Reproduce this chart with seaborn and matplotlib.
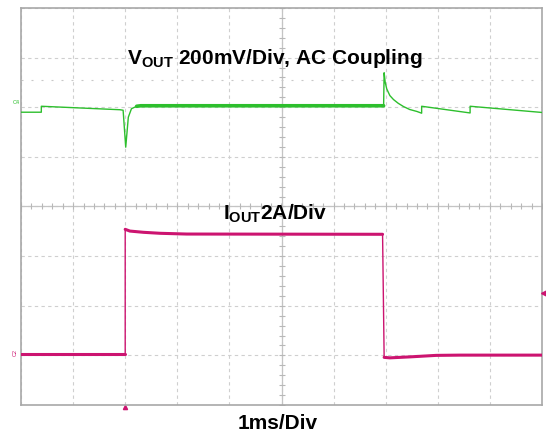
import numpy as np
import pandas as pd
import matplotlib
matplotlib.use("Agg")
import matplotlib.pyplot as plt
import matplotlib.transforms as mtransforms
import seaborn as sns

# =========================
# Data
# time in ms relative to trigger, 1 ms/div
# =========================
t_vout = [-2.0, -1.61, -1.61, -0.10, -0.04, 0.01, 0.06, 0.12, 0.22, 0.30,
          4.96, 4.97, 4.99, 5.02, 5.08, 5.15, 5.24, 5.34, 5.46, 5.60,
          5.69, 5.69, 6.62, 6.62, 8.0]
vout_mv = [-20, -20, 4, -10, -12, -161, -40, -6, 4, 6,
           6, 139, 101, 74, 47, 31, 16, 3, -9, -17,
           -24, 4, -23, 4, -21]

t_iout = [-2.0, 0.0, 0.0, 0.09, 0.35, 0.67, 1.18, 4.94, 4.97, 5.08,
          5.47, 5.97, 6.43, 8.0]
iout_a = [0.04, 0.04, 5.08, 5.01, 4.96, 4.92, 4.89, 4.88, -0.08, -0.10,
          -0.06, 0.0, 0.01, 0.01]
# which part of the current trace each point belongs to (0 low, 1 high, 2 low)
iout_seg = [0, 0, 1, 1, 1, 1, 1, 1, 2, 2, 2, 2, 2, 2]

trig_level_a = 2.5
trig_time_ms = 0.0

green = "#2dbf2d"
pink = "#cc1470"

# =========================
# Figure / scope graticule
# =========================
sns.set_style("white")
plt.rcParams["font.family"] = ["Liberation Sans", "DejaVu Sans"]
plt.rcParams["mathtext.fontset"] = "custom"
plt.rcParams["mathtext.rm"] = "Liberation Sans"
plt.rcParams["mathtext.bf"] = "Liberation Sans:bold"

fig = plt.figure(figsize=(5.46, 4.36), dpi=100)
ax = fig.add_axes([21 / 546, 31 / 436, 521 / 546, 397 / 436])

ax.set_xlim(-2, 8)
ax.set_ylim(-4, 4)
ax.set_xticks(np.arange(-2, 9))
ax.set_yticks(np.arange(-4, 5))
ax.grid(True, linestyle=(0, (3, 3)), color="#cfcfcf", linewidth=0.8)
ax.tick_params(length=0, labelbottom=False, labelleft=False)
for s in ax.spines.values():
    s.set_color("#a8a8a8")
    s.set_linewidth(1.2)

# center cross with minor ticks
ax.axhline(0, color="#c4c4c4", lw=0.9)
ax.axvline(3, color="#c4c4c4", lw=0.9)
minor_x = np.arange(-2, 8.01, 0.2)
minor_y = np.arange(-4, 4.01, 0.2)
ax.plot(minor_x, np.zeros_like(minor_x), ls="none", marker="|", ms=5,
        mew=0.8, color="#b8b8b8")
ax.plot(np.full_like(minor_y, 3), minor_y, ls="none", marker="_", ms=5,
        mew=0.8, color="#b8b8b8")
# dotted ruler line
ax.axhline(2.54, color="#c8c8c8", lw=0.8, linestyle=(0, (1.8, 7.2)))

# =========================
# Traces
# =========================
ax_v = ax.twinx()
ax_v.set_ylim(-1200, 400)   # 200 mV/div, C4 offset +2 div
ax_i = ax.twinx()
ax_i.set_ylim(-2, 14)       # 2 A/div, C2 offset -3 div
for a in (ax_v, ax_i):
    a.axis("off")

v_df = pd.DataFrame({"t": t_vout, "v": vout_mv})
i_df = pd.DataFrame({"t": t_iout, "i": iout_a, "seg": iout_seg})

# thin trace incl. edges, thicker noisy band on the flat parts
sns.lineplot(data=v_df, x="t", y="v", ax=ax_v, color=green, lw=1.0,
             estimator=None, sort=False)
v_flat = v_df[(v_df.t >= 0.22) & (v_df.t <= 4.96)]
sns.lineplot(data=v_flat, x="t", y="v", ax=ax_v, color=green, lw=2.6,
             estimator=None, sort=False)

sns.lineplot(data=i_df, x="t", y="i", ax=ax_i, color=pink, lw=1.0,
             estimator=None, sort=False)
sns.lineplot(data=i_df, x="t", y="i", ax=ax_i, units="seg", estimator=None,
             sort=False, color=pink, lw=2.2)

# trigger markers
trans_r = mtransforms.blended_transform_factory(ax_i.transAxes, ax_i.transData)
ax_i.plot([1.003], [trig_level_a], marker="<", ms=4, color=pink,
          transform=trans_r, clip_on=False)
trans_b = mtransforms.blended_transform_factory(ax.transData, ax.transAxes)
ax.plot([trig_time_ms], [-0.006], marker="^", ms=3, color=pink,
        transform=trans_b, clip_on=False)

# channel labels
fig.text(13 / 546, 1 - 104 / 436, "C4", fontsize=4, color=green)
fig.text(13 / 546, 1 - 355 / 436, "C2", fontsize=4, color=pink, rotation=90)

# =========================
# Annotations
# =========================
ax.text(2.88, 2.87, r"$\mathbf{V_{OUT}}$ 200mV/Div, AC Coupling",
        fontsize=15, fontweight="bold", ha="center", va="baseline",
        color="black")
ax.text(2.88, -0.27, r"$\mathbf{I_{OUT}}$2A/Div",
        fontsize=15, fontweight="bold", ha="center", va="baseline",
        color="black")
fig.text(278 / 546, 1 - 423 / 436, "1ms/Div", fontsize=15,
         fontweight="bold", ha="center", va="center", color="black")

fig.savefig("out.png", dpi=100)
